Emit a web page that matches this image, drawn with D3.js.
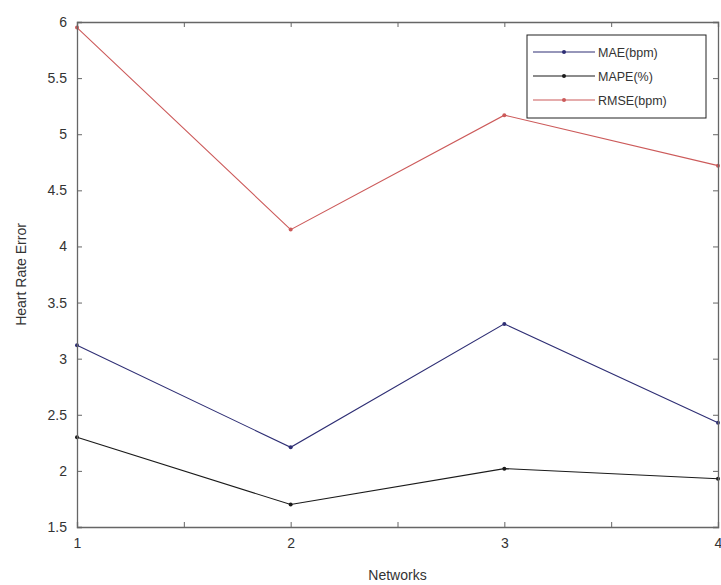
<!DOCTYPE html>
<html>
<head>
<meta charset="utf-8">
<script src="https://cdn.jsdelivr.net/npm/d3@7"></script>
<style>
  body { margin: 0; background: #fff; }
  text { font-family: "Liberation Sans", Arial, sans-serif; fill: #333; }
</style>
</head>
<body>
<div id="chart"></div>
<script>
// networks on the x axis
var networks = [1, 2, 3, 4];

// error values
var mae  = [3.12, 2.21, 3.31, 2.43];
var mape = [2.30, 1.70, 2.02, 1.93];
var rmse = [5.95, 4.15, 5.17, 4.72];

var seriesNames = ["MAE(bpm)", "MAPE(%)", "RMSE(bpm)"];
var yTicks = [1.5, 2, 2.5, 3, 3.5, 4, 4.5, 5, 5.5, 6];
var xTicks = [1, 1.5, 2, 2.5, 3, 3.5, 4];

var W = 721, H = 585;
var margin = {left: 77, right: 3, top: 22, bottom: 58};

var svg = d3.select("#chart").append("svg")
    .attr("width", W).attr("height", H);

var x = d3.scaleLinear().domain([1, 4]).range([margin.left, W - margin.right]);
var y = d3.scaleLinear().domain([1.5, 6]).range([H - margin.bottom, margin.top]);

var series = [
  {name: seriesNames[0], values: mae,  color: "#2e2e74"},
  {name: seriesNames[1], values: mape, color: "#1a1a1a"},
  {name: seriesNames[2], values: rmse, color: "#cc5a5a"}
];

// lines
var line = d3.line()
    .x(function(d, i) { return x(networks[i]); })
    .y(function(d) { return y(d); });

series.forEach(function(s) {
  svg.append("path")
      .attr("d", line(s.values))
      .attr("fill", "none")
      .attr("stroke", s.color)
      .attr("stroke-width", 1.1);

  svg.selectAll(null)
      .data(s.values)
      .enter()
      .append("circle")
      .attr("cx", function(d, i) { return x(networks[i]); })
      .attr("cy", function(d) { return y(d); })
      .attr("r", 2)
      .attr("fill", s.color);
});

// box and ticks (MATLAB style, ticks inward)
var axisColor = "#666";
var fmt = function(d) { return Number.isInteger(d) ? d : ""; };

function styleAxis(g) {
  g.select(".domain").attr("stroke", axisColor).attr("stroke-width", 1.3);
  g.selectAll(".tick line").attr("stroke", axisColor);
  g.selectAll("text").attr("font-size", 14).attr("fill", "#444");
}

svg.append("g")
    .attr("transform", "translate(0," + y(1.5) + ")")
    .call(d3.axisBottom(x).tickValues(xTicks).tickSize(-5).tickPadding(11).tickFormat(fmt))
    .call(styleAxis);

svg.append("g")
    .attr("transform", "translate(0," + y(6) + ")")
    .call(d3.axisTop(x).tickValues(xTicks).tickSize(-5).tickFormat(""))
    .call(styleAxis);

svg.append("g")
    .attr("transform", "translate(" + x(1) + ",0)")
    .call(d3.axisLeft(y).tickValues(yTicks).tickSize(-5).tickPadding(10).tickFormat(d3.format("")))
    .call(styleAxis);

svg.append("g")
    .attr("transform", "translate(" + x(4) + ",0)")
    .call(d3.axisRight(y).tickValues(yTicks).tickSize(-5).tickFormat(""))
    .call(styleAxis);

// axis titles
svg.append("text")
    .attr("x", (x(1) + x(4)) / 2)
    .attr("y", 580)
    .attr("text-anchor", "middle")
    .attr("font-size", 14)
    .text("Networks");

svg.append("text")
    .attr("transform", "translate(26," + ((y(1.5) + y(6)) / 2) + ") rotate(-90)")
    .attr("text-anchor", "middle")
    .attr("font-size", 14)
    .text("Heart Rate Error");

// legend
var lg = svg.append("g").attr("transform", "translate(527,35)");
lg.append("rect")
    .attr("width", 179).attr("height", 83)
    .attr("fill", "#fff").attr("stroke", "#222").attr("stroke-width", 1);

series.forEach(function(s, i) {
  var yy = 17 + i * 24;
  lg.append("line")
      .attr("x1", 6).attr("x2", 68).attr("y1", yy).attr("y2", yy)
      .attr("stroke", s.color).attr("stroke-width", 1.1);
  lg.append("circle").attr("cx", 37).attr("cy", yy).attr("r", 2).attr("fill", s.color);
  lg.append("text")
      .attr("x", 71).attr("y", yy + 4.5)
      .attr("font-size", 12.5)
      .text(s.name);
});
</script>
</body>
</html>
